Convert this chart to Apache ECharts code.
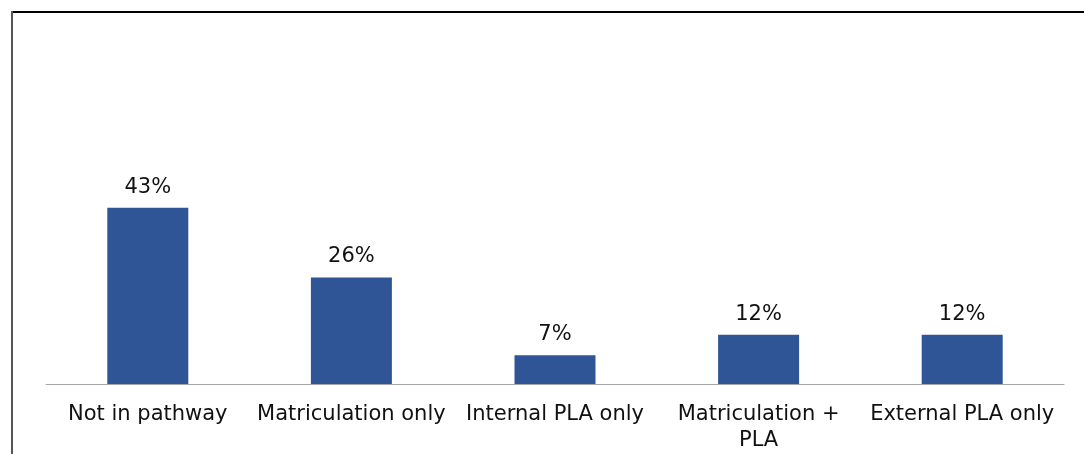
<!DOCTYPE html>
<html><head><meta charset="utf-8">
<script src="https://cdn.jsdelivr.net/npm/echarts@6/dist/echarts.min.js"></script>
<style>html,body{margin:0;padding:0;background:#fff}#c{width:1084px;height:454px}</style>
</head><body><div id="c"></div>
<script>
const categories = ["Not in pathway", "Matriculation only", "Internal PLA only", "Matriculation +\nPLA", "External PLA only"];
const values = [43, 26, 7, 12, 12];

const chart = echarts.init(document.getElementById('c'));
chart.setOption({
  animation: false,
  graphic: [
    {type: 'rect', shape: {x: 11, y: 11, width: 1073, height: 2}, style: {fill: '#000'}},
    {type: 'rect', shape: {x: 11, y: 11, width: 2, height: 443}, style: {fill: '#555'}}
  ],
  grid: {left: 46, right: 20, top: 179, bottom: 69},
  xAxis: {
    type: 'category', data: categories,
    axisLine: {lineStyle: {color: '#A6A6A6', width: 1}},
    axisTick: {show: false},
    axisLabel: {color: '#111', fontFamily: 'DejaVu Sans', fontSize: 21, margin: 18, lineHeight: 26, interval: 0}
  },
  yAxis: {type: 'value', min: 0, max: 50, show: false, splitLine: {show: false}},
  series: [{
    type: 'bar', data: values, barWidth: 81,
    itemStyle: {color: '#2F5597'},
    label: {show: true, position: 'top', distance: 10, formatter: '{c}%', color: '#111', fontFamily: 'DejaVu Sans', fontSize: 21}
  }]
});
</script></body></html>
